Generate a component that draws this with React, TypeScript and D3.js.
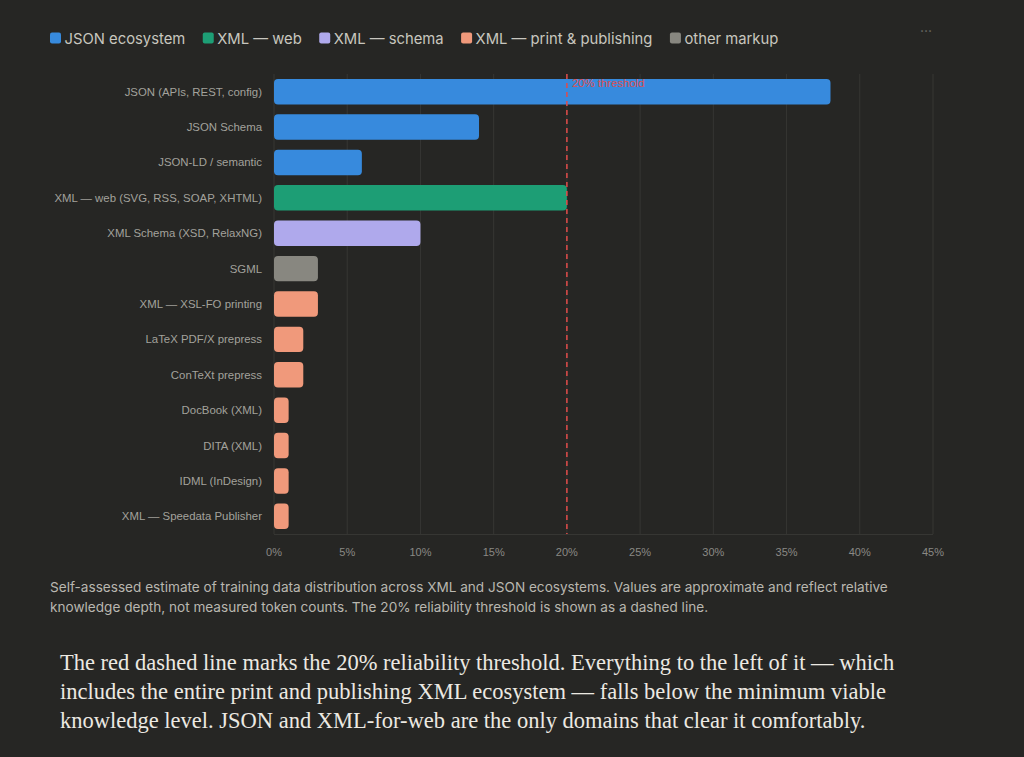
import { useEffect, useRef } from 'react';
import * as d3 from 'd3';

// categories (top to bottom), values in %, group key
const labels = [
  'JSON (APIs, REST, config)',
  'JSON Schema',
  'JSON-LD / semantic',
  'XML — web (SVG, RSS, SOAP, XHTML)',
  'XML Schema (XSD, RelaxNG)',
  'SGML',
  'XML — XSL-FO printing',
  'LaTeX PDF/X prepress',
  'ConTeXt prepress',
  'DocBook (XML)',
  'DITA (XML)',
  'IDML (InDesign)',
  'XML — Speedata Publisher',
];
const values = [38, 14, 6, 20, 10, 3, 3, 2, 2, 1, 1, 1, 1];
const groups = ['json', 'json', 'json', 'web', 'schema', 'other', 'print', 'print', 'print', 'print', 'print', 'print', 'print'];

const groupKeys = ['json', 'web', 'schema', 'print', 'other'];
const groupNames = ['JSON ecosystem', 'XML — web', 'XML — schema', 'XML — print & publishing', 'other markup'];
const groupColors = ['#378ADD', '#1D9E75', '#AFA9EC', '#F0997B', '#888780'];

const xTicks = [0, 5, 10, 15, 20, 25, 30, 35, 40, 45];
const threshold = 20;

const captionLines = [
  'Self-assessed estimate of training data distribution across XML and JSON ecosystems. Values are approximate and reflect relative',
  'knowledge depth, not measured token counts. The 20% reliability threshold is shown as a dashed line.',
];
const proseLines = [
  'The red dashed line marks the 20% reliability threshold. Everything to the left of it — which',
  'includes the entire print and publishing XML ecosystem — falls below the minimum viable',
  'knowledge level. JSON and XML-for-web are the only domains that clear it comfortably.',
];

const W = 1024;
const H = 757;
const BG = '#262624';

export default function App() {
  const svgRef = useRef<SVGSVGElement>(null);

  useEffect(() => {
    if (!svgRef.current) return;
    const root = d3.select(svgRef.current);
    root.selectAll('*').remove();

    root.append('rect').attr('width', W).attr('height', H).attr('fill', BG);

    // legend
    const legend = root.append('g').attr('transform', 'translate(50, 38)');
    let lx = 0;
    groupKeys.forEach((k, i) => {
      const g = legend.append('g').attr('transform', `translate(${lx},0)`);
      g.append('rect')
        .attr('x', 0)
        .attr('y', -5.5)
        .attr('width', 11)
        .attr('height', 11)
        .attr('rx', 2)
        .attr('fill', groupColors[i]);
      const t = g
        .append('text')
        .attr('x', 14.5)
        .attr('y', 5.5)
        .style('font-family', 'Inter, "Open Sans", sans-serif')
        .style('font-size', '14.8px')
        .attr('fill', '#c8c6bf')
        .text(groupNames[i]);
      const tw = (t.node() as SVGTextElement).getComputedTextLength();
      lx += 14.5 + tw + 17.5;
    });

    root
      .append('text')
      .attr('x', 926)
      .attr('y', 36)
      .attr('text-anchor', 'middle')
      .style('font-family', 'Inter, sans-serif')
      .style('font-size', '14px')
      .attr('fill', '#6a6964')
      .text('···');

    // chart
    const margin = { top: 74, left: 274 };
    const innerWidth = 933 - 274;
    const innerHeight = 534 - 74;
    const svg = root.append('g').attr('transform', `translate(${margin.left},${margin.top})`);

    const x = d3.scaleLinear().domain([0, 45]).range([0, innerWidth]);
    const y = d3.scaleBand().domain(labels).range([0, innerHeight]).paddingInner(0.28).paddingOuter(0.14);

    // grid
    svg
      .append('g')
      .selectAll('line')
      .data(xTicks)
      .join('line')
      .attr('x1', (d) => x(d))
      .attr('x2', (d) => x(d))
      .attr('y1', 0)
      .attr('y2', innerHeight)
      .attr('stroke', '#363633')
      .attr('stroke-width', 1);

    svg
      .append('line')
      .attr('x1', 0)
      .attr('x2', innerWidth)
      .attr('y1', innerHeight + 0.5)
      .attr('y2', innerHeight + 0.5)
      .attr('stroke', '#363633');

    // x tick labels
    svg
      .append('g')
      .selectAll('text')
      .data(xTicks)
      .join('text')
      .attr('x', (d) => x(d))
      .attr('y', innerHeight + 22)
      .attr('text-anchor', 'middle')
      .style('font-family', '"Liberation Sans", Arial, sans-serif')
      .style('font-size', '11px')
      .attr('fill', '#8a8984')
      .text((d) => `${d}%`);

    // y labels
    svg
      .append('g')
      .selectAll('text')
      .data(labels)
      .join('text')
      .attr('x', -12)
      .attr('y', (d) => (y(d) || 0) + y.bandwidth() / 2 + 4)
      .attr('text-anchor', 'end')
      .style('font-family', '"Liberation Sans", Arial, sans-serif')
      .style('font-size', '11.4px')
      .attr('fill', '#a3a29c')
      .text((d) => d);

    // bars
    svg
      .append('g')
      .selectAll('rect')
      .data(labels)
      .join('rect')
      .attr('x', 0)
      .attr('y', (d) => y(d) || 0)
      .attr('width', (d, i) => x(values[i]))
      .attr('height', y.bandwidth())
      .attr('rx', 4)
      .attr('fill', (d, i) => groupColors[groupKeys.indexOf(groups[i])]);

    // threshold
    svg
      .append('line')
      .attr('x1', x(threshold))
      .attr('x2', x(threshold))
      .attr('y1', 0)
      .attr('y2', innerHeight)
      .attr('stroke', '#E24B4A')
      .attr('stroke-width', 1.5)
      .attr('stroke-dasharray', '5 4');

    svg
      .append('text')
      .attr('x', x(threshold) + 5)
      .attr('y', 13)
      .style('font-family', '"Liberation Sans", Arial, sans-serif')
      .style('font-size', '11.4px')
      .attr('fill', '#DD4F4F')
      .text(`${threshold}% threshold`);

    // caption
    root
      .append('g')
      .selectAll('text')
      .data(captionLines)
      .join('text')
      .attr('x', 50)
      .attr('y', (d, i) => 592 + i * 20)
      .style('font-family', 'Inter, "Open Sans", sans-serif')
      .style('font-size', '13.6px')
      .attr('fill', '#b9b7b0')
      .text((d) => d);

    // prose
    root
      .append('g')
      .selectAll('text')
      .data(proseLines)
      .join('text')
      .attr('x', 60)
      .attr('y', (d, i) => 670 + i * 29)
      .style('font-family', '"Liberation Serif", "Times New Roman", serif')
      .style('font-size', '22.5px')
      .attr('fill', '#ece9e2')
      .text((d) => d);
  }, []);

  return (
    <svg
      ref={svgRef}
      width={W}
      height={H}
      style={{ position: 'absolute', left: 0, top: 0, display: 'block' }}
    />
  );
}
